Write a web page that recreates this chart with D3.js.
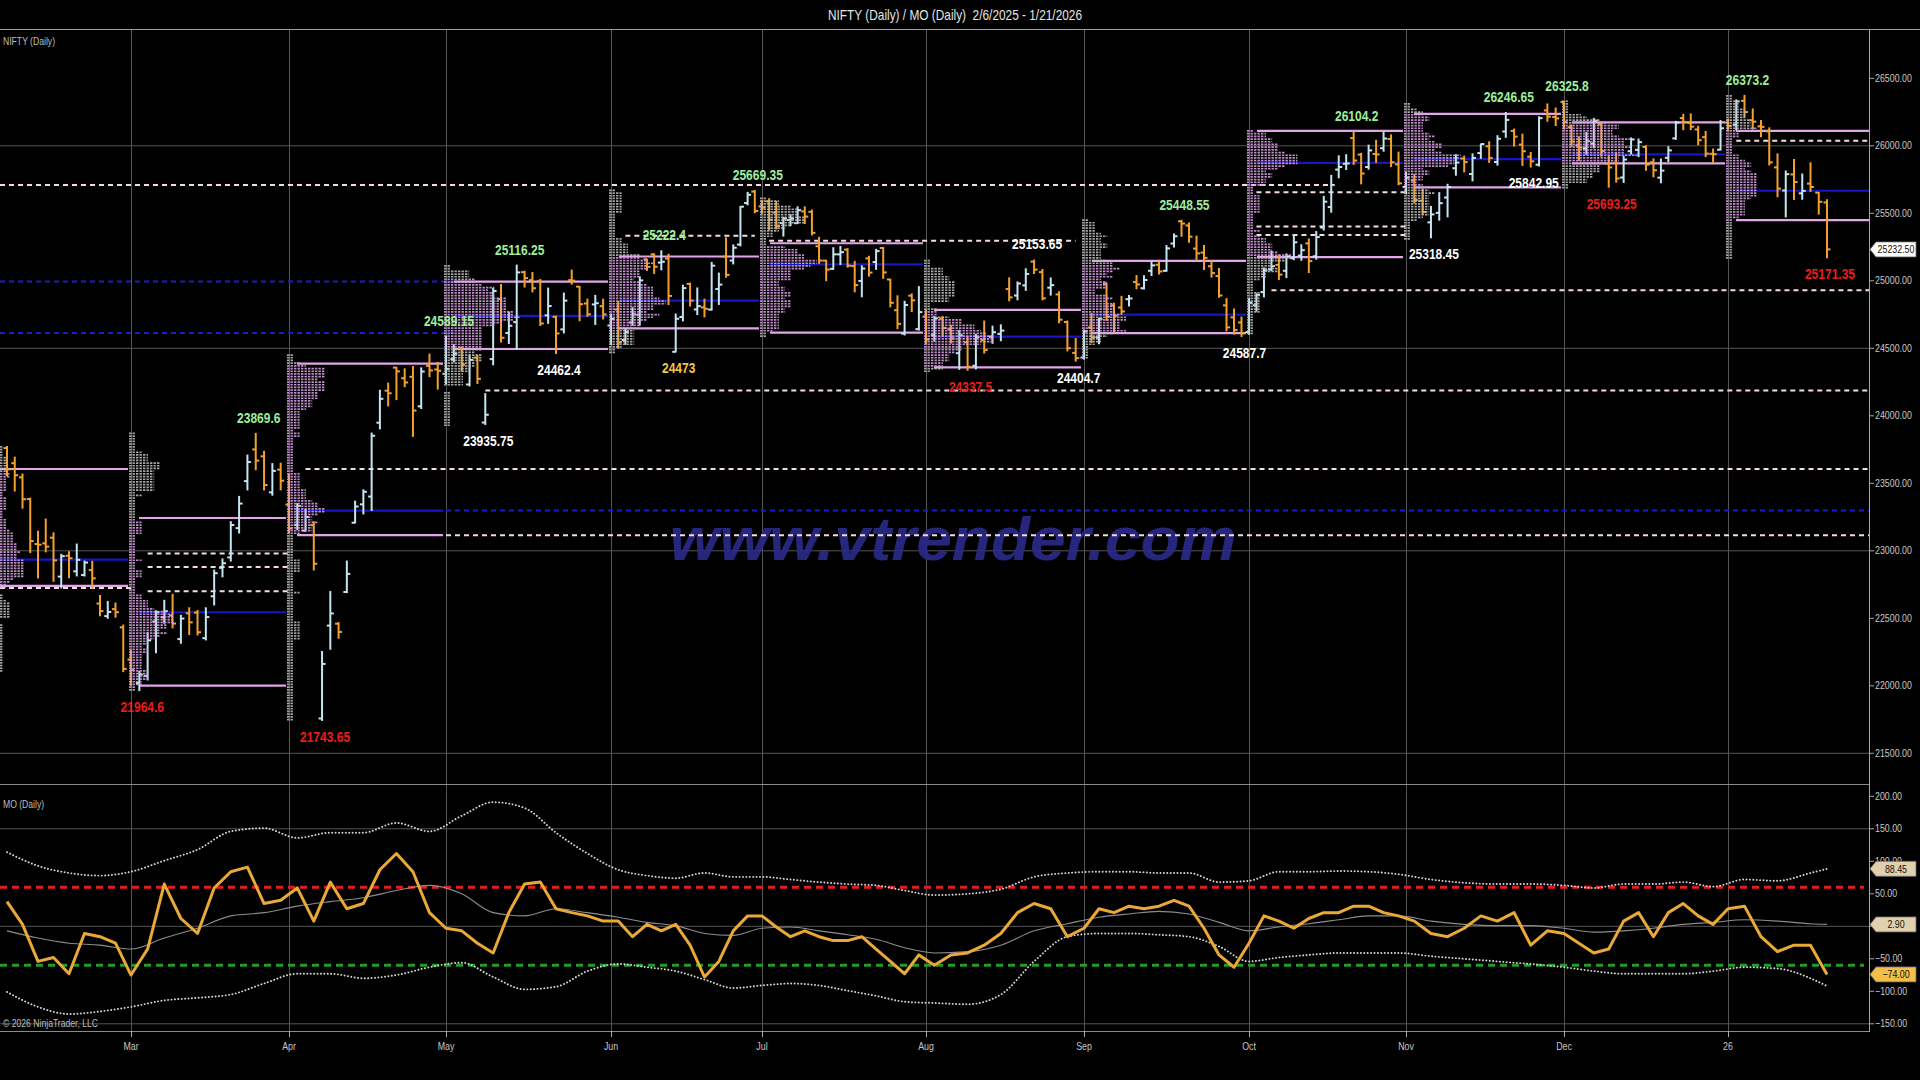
<!DOCTYPE html>
<html>
<head>
<meta charset="utf-8">
<title>NIFTY (Daily) / MO (Daily)</title>
<script src="https://cdn.jsdelivr.net/npm/d3@7/dist/d3.min.js"></script>
<style>
html,body{margin:0;padding:0;background:#000;overflow:hidden;}
svg{display:block;}
</style>
</head>
<body>
<svg id="chart" width="1920" height="1080"></svg>
<script>
(function(){
// ================= DATA =================
const dates = [
"2025-02-06","2025-02-07","2025-02-10","2025-02-11","2025-02-12","2025-02-13","2025-02-14","2025-02-17","2025-02-18","2025-02-19","2025-02-20","2025-02-21","2025-02-24","2025-02-25","2025-02-27","2025-02-28",
"2025-03-03","2025-03-04","2025-03-05","2025-03-06","2025-03-07","2025-03-10","2025-03-11","2025-03-12","2025-03-13","2025-03-17","2025-03-18","2025-03-19","2025-03-20","2025-03-21","2025-03-24","2025-03-25","2025-03-26","2025-03-27","2025-03-28",
"2025-04-01","2025-04-02","2025-04-03","2025-04-04","2025-04-07","2025-04-08","2025-04-09","2025-04-11","2025-04-15","2025-04-16","2025-04-17","2025-04-21","2025-04-22","2025-04-23","2025-04-24","2025-04-25","2025-04-28","2025-04-29","2025-04-30",
"2025-05-02","2025-05-05","2025-05-06","2025-05-07","2025-05-08","2025-05-09","2025-05-12","2025-05-13","2025-05-14","2025-05-15","2025-05-16","2025-05-19","2025-05-20","2025-05-21","2025-05-22","2025-05-23","2025-05-26","2025-05-27","2025-05-28","2025-05-29","2025-05-30",
"2025-06-02","2025-06-03","2025-06-04","2025-06-05","2025-06-06","2025-06-09","2025-06-10","2025-06-11","2025-06-12","2025-06-13","2025-06-16","2025-06-17","2025-06-18","2025-06-19","2025-06-20","2025-06-23","2025-06-24","2025-06-25","2025-06-26","2025-06-27","2025-06-30",
"2025-07-01","2025-07-02","2025-07-03","2025-07-04","2025-07-07","2025-07-08","2025-07-09","2025-07-10","2025-07-11","2025-07-14","2025-07-15","2025-07-16","2025-07-17","2025-07-18","2025-07-21","2025-07-22","2025-07-23","2025-07-24","2025-07-25","2025-07-28","2025-07-29","2025-07-30","2025-07-31",
"2025-08-01","2025-08-04","2025-08-05","2025-08-06","2025-08-07","2025-08-08","2025-08-11","2025-08-12","2025-08-13","2025-08-14","2025-08-18","2025-08-19","2025-08-20","2025-08-21","2025-08-22","2025-08-25","2025-08-26","2025-08-28","2025-08-29",
"2025-09-01","2025-09-02","2025-09-03","2025-09-04","2025-09-05","2025-09-08","2025-09-09","2025-09-10","2025-09-11","2025-09-12","2025-09-15","2025-09-16","2025-09-17","2025-09-18","2025-09-19","2025-09-22","2025-09-23","2025-09-24","2025-09-25","2025-09-26","2025-09-29","2025-09-30",
"2025-10-01","2025-10-03","2025-10-06","2025-10-07","2025-10-08","2025-10-09","2025-10-10","2025-10-13","2025-10-14","2025-10-15","2025-10-16","2025-10-17","2025-10-20","2025-10-21","2025-10-23","2025-10-24","2025-10-27","2025-10-28","2025-10-29","2025-10-30","2025-10-31",
"2025-11-03","2025-11-04","2025-11-06","2025-11-07","2025-11-10","2025-11-11","2025-11-12","2025-11-13","2025-11-14","2025-11-17","2025-11-18","2025-11-19","2025-11-20","2025-11-21","2025-11-24","2025-11-25","2025-11-26","2025-11-27","2025-11-28",
"2025-12-01","2025-12-02","2025-12-03","2025-12-04","2025-12-05","2025-12-08","2025-12-09","2025-12-10","2025-12-11","2025-12-12","2025-12-15","2025-12-16","2025-12-17","2025-12-18","2025-12-19","2025-12-22","2025-12-23","2025-12-24","2025-12-26","2025-12-29","2025-12-30","2025-12-31",
"2026-01-01","2026-01-02","2026-01-05","2026-01-06","2026-01-07","2026-01-08","2026-01-09","2026-01-12","2026-01-13","2026-01-14","2026-01-16","2026-01-19","2026-01-20"
];
const opens = [
23761,23649,23544,23383,23050,23055,23097,22809,22963,22848,22821,22857,22609,22516,22568,22433,
22194,22020,22073,22476,22508,22521,22346,22537,22542,22353,22663,22874,22951,23168,23516,23751,23700,23433,23601,
23342,23192,23150,23190,21758,22446,22460,22695,23208,23344,23402,23949,24186,24357,24278,24289,24070,24370,24343,
24311,24420,24500,24232,24431,23950,24420,24864,24613,24694,25064,25005,24996,24744,24733,24640,25005,24957,24832,24825,24812,
24669,24787,24561,24691,24749,25160,25196,25135,25165,24474,24732,24977,24788,24803,24787,24939,25179,25150,25269,25576,25661,
25551,25588,25505,25428,25450,25427,25514,25511,25256,25149,25089,25196,25231,25109,24999,25166,25139,25243,25010,24782,24609,24890,24642,
24734,24597,24720,24641,24464,24544,24371,24563,24586,24607,24939,24891,24966,25142,25064,24949,24899,24695,24466,
24432,24654,24582,24980,24818,24802,24864,24991,24945,25074,25119,25074,25276,25441,25410,25239,25209,25108,25035,24818,24729,24691,
24620,24819,24916,25085,25118,25074,25167,25187,25277,25182,25394,25546,25824,25867,26057,25935,25843,25939,25982,26050,25863,
25696,25744,25593,25433,25503,25617,25834,25906,25791,25946,25996,25880,26106,26110,26009,25919,25860,26262,26213,
26325,26137,26004,25980,26016,26160,25868,25872,25765,25960,25970,25991,25878,25764,25911,26055,26205,26170,26121,26064,25941,25971,
26173,26155,26333,26189,26144,26107,25840,25669,25788,25648,25720,25653,25580
];
const highs = [
23773,23694,23569,23390,23144,23235,23133,22974,22993,23050,22924,22922,22668,22625,22613,22450,
22262,22106,22394,22556,22633,22677,22522,22578,22558,22578,22857,22940,23216,23403,23709,23869.6,23737,23646,23649,
23565,23350,23306,23214,22254,22698,22468,22924,23368,23452,23872,24189,24242,24359,24348,24365,24355,24457,24396,
24589.15,24526,24510,24449,24448,24164,24944,24973,24767,25116.25,25071,25062,25010,24946,24737,24909,25079,24958,24864,24892,24864,
24754,24845,24644,24800,25030,25160,25199,25222.4,25197,24754,24967,24983,24947,24864,25136,25057,25318,25266,25550,25655,25669.35,
25593,25608,25587,25470,25489,25548,25548,25524,25322,25152,25245,25255,25238,25144,25111,25182,25233,25247,25011,24889,24848,24903,24957,
24784,24736,24733,24671,24634,24586,24602,24702,24664,24674,25022,24992,25089,25153.65,25084,25021,24919,24702,24572,
24636,24757,24723,24981,24833,24885,24891,25039,25037,25140,25139,25261,25346,25448.55,25429,25331,25261,25150,25092,24868,24791,24731,
24868,24904,25095,25220,25190,25199,25330,25267,25310,25365,25625,25781,25926,25934,26104.2,25944,26005,26041,26098,26081,25953,
25803,25787,25679,25551,25653,25715,25934,25924,25940,26013,26030,26075,26246.65,26124,26087,25951,26215,26310,26280,
26325.8,26154,26066,26098,26203,26178,25923,25947,25922,26058,26050,26000,25903,25902,25993,26181,26233,26236,26145,26106,25976,26187,
26197,26340,26373.2,26273,26187,26133,25940,25813,25899,25791,25874,25654,25600
];
const lows = [
23556,23443,23316,22987,22798,22992,22774,22725,22801,22814,22813,22721,22519,22500,22508,22105,
22005,21964.6,22043,22245,22464,22429,22315,22380,22377,22340,22599,22807,22924,23132,23451,23601,23451,23412,23451,
23136,23158,23146,22858,21743.65,22271,22353,22690,23207,23273,23299,23903,24073,24120,24216,23848,24054,24290,24198,
24238,24400,24331,24221,24239,23935.75,24378,24547,24535,24494,24954,24918,24669,24685,24462.4,24614,24975,24704,24737,24677,24717,
24527,24502,24530,24671,24671,25077,25055,25081,24824,24473,24703,24813,24750,24733,24783,24825,25026,25125,25259,25563,25504,
25501,25378,25384,25331,25408,25424,25424,25340,25129,25001,25085,25121,25101,24918,24882,25035,25085,25018,24807,24646,24599,24772,24635,
24535,24554,24590,24539,24344,24337.5,24347,24465,24537,24556,24852,24859,24929,25054,24859,24894,24689,24481,24404.7,
24420,24543,24533,24707,24621,24751,24814,24941,24940,25039,25050,25071,25251,25330,25286,25152,25084,25027,24878,24629,24606,24587.7,
24605,24776,24881,25076,25009,25024,25156,25152,25061,25160,25376,25508,25763,25825,25862,25718,25827,25878,25960,25846,25711,
25645,25578,25491,25318.45,25449,25474,25782,25807,25740,25907,25877,25857,26063,25998,25855,25842.95,25850,26182,26150,
26124,25997,25892,25938,25985,25923,25693.25,25731,25729,25939,25920,25818,25770,25726,25884,26048,26119,26120,26008,25920,25878,25969,
26113,26119,26210,26124,26067,25858,25623,25473,25603,25604,25662,25494,25171.35
];
const closes = [
23603,23560,23382,23072,23045,23031,22929,22960,22945,22933,22913,22796,22553,22547,22545,22125,
22119,22083,22337,22545,22553,22461,22498,22470,22397,22509,22834,22908,23191,23350,23658,23668,23487,23592,23519,
23165,23332,23250,22904,22162,22536,22399,22829,23328,23437,23852,24126,24167,24329,24247,24039,24328,24336,24334,
24347,24461,24380,24414,24274,24008,24925,24578,24667,25062,25020,24945,24684,24813,24610,24853,25001,24827,24752,24834,24751,
24717,24543,24621,24751,25003,25103,25104,25141,24888,24719,24946,24853,24812,24793,25112,24972,25044,25245,25549,25637,25517,
25542,25453,25405,25461,25461,25523,25476,25355,25150,25083,25196,25212,25112,24968,25091,25061,25220,25062,24837,24681,24821,24855,24768,
24565,24723,24650,24574,24596,24363,24585,24487,24619,24631,24877,24980,25051,25083,24870,24968,24712,24501,24427,
24625,24580,24716,24734,24741,24773,24869,24973,25006,25114,25069,25240,25330,25424,25327,25203,25170,25057,24891,24655,24635,24611,
24837,24895,25078,25108,25046,25182,25285,25227,25146,25324,25586,25710,25843,25869,25891,25795,25966,25936,26054,25878,25722,
25764,25598,25510,25492,25575,25695,25876,25879,25910,26013,25910,26052,26192,26068,25960,25885,26205,26216,26203,
26176,26032,25986,26034,26186,25961,25840,25758,25898,26047,26027,25860,25819,25816,25966,26172,26177,26142,26042,25942,25938,26130,
26147,26329,26250,26179,26140,25877,25683,25790,25732,25666,25695,25585,25232.5
];

// Monthly market-profile levels (value-area high, point of control, value-area low)
const profileMonths = ["2025-02","2025-03","2025-04","2025-05","2025-06","2025-07","2025-08","2025-09","2025-10","2025-11","2025-12","2026-01"];
const vaHighs = [23606,23243,24386,24994,25180,25278,24785,25148,26110,26236,26174,26110];
const pocs    = [22935,22545,23298,24740,24853,25122,24586,24749,25874,25901,25937,25667];
const vaLows  = [22740,22001,23116,24495,24648,24616,24359,24613,25175,25692,25870,25450];

// Extended (naked) reference levels
const extLevels = [25710,24994,24613,22725,22980,22880,22700,23606,23298,23116,24187,25334,25297,25656,25402,25339,24930,26038];
const extFrom = ["2025-02-06","2025-02-06","2025-02-06","2025-02-06","2025-03-05","2025-03-05","2025-03-05","2025-04-03","2025-05-02","2025-05-02","2025-05-09","2025-06-04","2025-07-02","2025-10-03","2025-10-03","2025-10-03","2025-10-07","2026-01-02"];
const extTo   = ["2025-10-17","2025-05-05","2025-05-05","2025-03-03","2025-04-01","2025-04-01","2025-04-01","end","end","end","end","2025-06-30","2025-08-29","2025-11-03","2025-11-03","2025-11-03","end","end"];
const extKind = ["w","b","b","w","w","w","w","w","b","w","w","w","w","w","w","w","w","w"];

// Swing labels
const labelDates = ["2025-03-25","2025-03-04","2025-04-07","2025-05-02","2025-05-09","2025-05-15","2025-05-22","2025-06-11","2025-06-13","2025-06-30","2025-08-08","2025-08-21","2025-08-29","2025-09-18","2025-09-30","2025-10-23","2025-11-07","2025-11-20","2025-11-25","2025-12-01","2025-12-09","2026-01-05","2026-01-20"];
const labelValues = [23869.6,21964.6,21743.65,24589.15,23935.75,25116.25,24462.4,25222.4,24473,25669.35,24337.5,25153.65,24404.7,25448.55,24587.7,26104.2,25318.45,26246.65,25842.95,26325.8,25693.25,26373.2,25171.35];
const labelSides = ["above","below","below","above","below","above","below","above","below","above","below","above","below","above","below","above","below","above","below","above","below","above","below"];
const labelTones = ["green","red","red","green","white","green","white","green","yellow","green","red","white","white","green","white","green","white","green","white","green","red","green","red"];

// MO oscillator, read every 2nd bar
const moValues = [38,3,-54,-48,-73,-11,-16,-26,-75,-35,
 65,12,-11,59,84,91,35,40,59,8,
 68,27,35,87,112,84,21,-3,-7,-26,
 -41,21,65,68,27,21,16,8,8,-16,
 3,-7,3,-29,-78,-54,-7,16,16,-1,
 -16,-7,-16,-22,-22,-16,-35,-54,-73,-44,
 -60,-44,-41,-29,-11,21,35,27,-16,-3,
 27,21,31,27,31,40,31,-3,-44,-63,
 -26,16,8,-3,12,21,21,31,31,21,
 16,8,-11,-16,-3,16,8,21,-29,-7,
 -11,-26,-41,-35,8,21,-16,21,35,16,
 3,27,31,-16,-39,-29,-29,-74];
// Signal line and bands, read every 4th bar plus the last bar
const moSignal = [-7,-18,-26,-29,-35,-18,-3,16,21,31,38,44,55,63,50,21,16,27,21,14,6,1,-11,-14,-3,-1,-7,-13,-20,-33,-41,-39,-29,-7,4,14,19,23,19,6,-7,-1,4,10,16,16,8,3,1,1,-3,-9,-7,-3,3,6,10,8,4,2.9];
const bandUpper = [114,93,82,78,84,101,118,146,151,136,144,144,159,146,170,191,182,144,112,87,78,74,82,76,76,72,68,65,63,55,48,50,57,76,82,84,84,82,82,68,70,84,84,85,84,80,72,67,65,65,63,59,65,65,68,61,72,70,82,88.45];
const bandLower = [-101,-124,-135,-131,-124,-114,-110,-105,-88,-73,-73,-80,-75,-63,-56,-78,-97,-93,-69,-58,-63,-69,-82,-95,-91,-88,-91,-99,-107,-116,-118,-120,-105,-54,-16,-11,-11,-13,-16,-31,-54,-48,-44,-41,-41,-41,-46,-50,-54,-58,-63,-69,-73,-73,-73,-69,-63,-65,-80,-92];
const moLevels = [60, -60];

const priceTicks = [21500,22000,22500,23000,23500,24000,24500,25000,25500,26000,26500];
const priceGrid = [21500,23000,24500,26000];
const moTicks = [-150,-100,-50,0,50,100,150,200];
const moGrid = [-150,0,150];

// ================= LAYOUT =================
const W = 1920, H = 1080;
const AX = 1869;               // right axis line
const TOP = 30, TOP_B = 784, BOT_T = 786, BOT_B = 1026, XAX = 1031;
const monthTickPx = [131,289,446,611,762,926,1084,1249,1406,1564,1728];
const FONT = "'Liberation Sans',Arial,'DejaVu Sans',sans-serif";
const COL = {up:"#c4e6f2", down:"#f2a22c", grid:"#555", txt:"#c8c8c8",
  pink:"#e2a5ea", prof:"#d9a0e4", gray:"#bcbcbc", poc:"#1616c8", dashW:"#f3dcdf", dashB:"#1c1ccf",
  green:"#9cef9c", red:"#ec1c1c", white:"#ffffff", yellow:"#f4c542", mo:"#eaa936"};

// condense a text element like a narrow typeface
function narrow(sel, f){
  sel.each(function(){
    const L = this.getComputedTextLength();
    if (L > 0) { this.setAttribute("textLength", (L*(f||0.82)).toFixed(1)); this.setAttribute("lengthAdjust","spacingAndGlyphs"); }
  });
  return sel;
}

const n = dates.length;
const parse = d3.timeParse("%Y-%m-%d");
const D = dates.map(parse);
const idxOf = new Map(dates.map((d,i)=>[d,i]));
const monthStart = [];
D.forEach((d,i)=>{ if(i===0 || d.getMonth()!==D[i-1].getMonth()) monthStart.push(i); });

const x = d3.scaleLinear()
  .domain([0, ...monthStart.slice(1), n-1])
  .range([7, ...monthTickPx, 1827]);
const yP = d3.scaleLinear().domain([21500, 26500]).range([753.3, 78.3]);
const yM = d3.scaleLinear().domain([-150, 200]).range([1023.8, 796.3]);

const svg = d3.select("#chart");
svg.append("rect").attr("width",W).attr("height",H).attr("fill","#000");
const defs = svg.append("defs");
defs.append("clipPath").attr("id","clipTop").append("rect").attr("x",0).attr("y",TOP).attr("width",AX).attr("height",TOP_B-TOP);
defs.append("clipPath").attr("id","clipBot").append("rect").attr("x",0).attr("y",BOT_T).attr("width",AX).attr("height",BOT_B-BOT_T+1);

// title
svg.append("text").attr("x",955).attr("y",20).attr("text-anchor","middle")
  .attr("font-family",FONT).attr("font-size",15).attr("fill","#e4e4e4")
  .attr("textLength",254).attr("lengthAdjust","spacingAndGlyphs")
  .text("NIFTY (Daily) / MO (Daily)\u00a0 2/6/2025 - 1/21/2026");
svg.append("line").attr("x1",0).attr("x2",W).attr("y1",29.5).attr("y2",29.5).attr("stroke","#a0a0a0");

// grid
const grid = svg.append("g");
monthStart.slice(1).forEach(i=>{
  grid.append("line").attr("x1",x(i)+0.5).attr("x2",x(i)+0.5).attr("y1",TOP).attr("y2",XAX).attr("stroke",COL.grid);
});
priceGrid.forEach(v=>grid.append("line").attr("x1",0).attr("x2",AX).attr("y1",yP(v)).attr("y2",yP(v)).attr("stroke",COL.grid));
moGrid.forEach(v=>grid.append("line").attr("x1",0).attr("x2",AX).attr("y1",yM(v)).attr("y2",yM(v)).attr("stroke",COL.grid));
grid.append("line").attr("x1",0).attr("x2",AX).attr("y1",TOP_B+0.5).attr("y2",TOP_B+0.5).attr("stroke","#8a8a8a");
grid.append("line").attr("x1",0).attr("x2",AX).attr("y1",XAX+0.5).attr("y2",XAX+0.5).attr("stroke","#8a8a8a");

// watermark
svg.append("text").attr("x",953).attr("y",560).attr("text-anchor","middle")
  .attr("font-family","'Liberation Sans',Arial,sans-serif").attr("font-weight","bold").attr("font-style","italic")
  .attr("font-size",62).attr("textLength",567).attr("lengthAdjust","spacingAndGlyphs")
  .attr("fill","#2a2a88").attr("opacity",0.92).text("www.vtrender.com");

// ---------- top panel ----------
const topG = svg.append("g").attr("clip-path","url(#clipTop)");
const levelG = topG.append("g");

// extended levels
extLevels.forEach((v,k)=>{
  const xa = extFrom[k]===dates[0] ? 0 : x(idxOf.get(extFrom[k]));
  const xb = extTo[k]==="end" ? AX : x(idxOf.get(extTo[k]));
  levelG.append("line").attr("x1",xa).attr("x2",xb).attr("y1",yP(v)).attr("y2",yP(v))
    .attr("stroke", extKind[k]==="b" ? COL.dashB : COL.dashW).attr("stroke-width",2)
    .attr("stroke-dasharray","5,4");
});

// monthly value-area lines
profileMonths.forEach((m,k)=>{
  const i0 = monthStart[k];
  const xa = k===0 ? 0 : x(i0)+8;
  const xb = k+1<monthStart.length ? x(monthStart[k+1])-3 : AX;
  [[vaHighs[k],COL.pink],[vaLows[k],COL.pink],[pocs[k],COL.poc]].forEach(([v,c])=>{
    levelG.append("line").attr("x1",xa).attr("x2",xb).attr("y1",yP(v)).attr("y2",yP(v))
      .attr("stroke",c).attr("stroke-width",2.2);
  });
});

// OHLC bars
const barG = topG.append("g");
d3.range(n).forEach(i=>{
  const c = closes[i]>=opens[i] ? COL.up : COL.down;
  const g = barG.append("g").attr("stroke",c).attr("stroke-width",2);
  g.append("line").attr("x1",x(i)).attr("x2",x(i)).attr("y1",yP(highs[i])-0.5).attr("y2",yP(lows[i])+0.5);
  g.append("line").attr("x1",x(i)-3.5).attr("x2",x(i)).attr("y1",yP(opens[i])).attr("y2",yP(opens[i]));
  g.append("line").attr("x1",x(i)).attr("x2",x(i)+3.5).attr("y1",yP(closes[i])).attr("y2",yP(closes[i]));
});

// monthly TPO-style profiles built from the bars of each month
const BIN = 20, PER = 6.3;
const profG = topG.append("g").attr("opacity",0.88);
profileMonths.forEach((m,k)=>{
  const i0 = monthStart[k], i1 = k+1<monthStart.length ? monthStart[k+1] : n;
  const lo = d3.min(lows.slice(i0,i1)), hi = d3.max(highs.slice(i0,i1));
  const xs = k===0 ? 0 : x(i0)-2;
  const per = k===0 ? PER*0.55 : PER;
  for(let b=Math.floor(lo/BIN)*BIN; b<hi; b+=BIN){
    let cnt = 0;
    for(let i=i0;i<i1;i++) if(lows[i] < b+BIN && highs[i] > b) cnt++;
    if(!cnt) continue;
    const mid = b+BIN/2;
    const inVA = mid>=vaLows[k] && mid<=vaHighs[k];
    profG.append("line").attr("x1",xs).attr("x2",xs+cnt*per).attr("y1",yP(mid)).attr("y2",yP(mid))
      .attr("stroke", inVA ? COL.prof : COL.gray).attr("stroke-width",1.7).attr("stroke-dasharray","2.4,1.1");
  }
});

// swing labels
const labG = svg.append("g").attr("font-family",FONT).attr("font-weight","bold").attr("font-size",15).attr("text-anchor","middle");
labelDates.forEach((d,k)=>{
  const v = labelValues[k];
  const y = labelSides[k]==="above" ? yP(v)-16 : yP(v)+16;
  labG.append("text").attr("x",x(idxOf.get(d))+3).attr("y",y).attr("dy","0.36em")
    .attr("fill",COL[labelTones[k]]).text(String(v));
});
narrow(labG.selectAll("text"), 0.80);

// ---------- bottom panel ----------
const botG = svg.append("g").attr("clip-path","url(#clipBot)");
moLevels.forEach((v,k)=>{
  botG.append("line").attr("x1",0).attr("x2",AX-5).attr("y1",yM(v)).attr("y2",yM(v))
    .attr("stroke", k===0 ? "#e01e1e" : "#1f9e2a").attr("stroke-width",3).attr("stroke-dasharray","7,5");
});
const idx2 = d3.range(0,n,2);
const idx4 = d3.range(0,n-1,4).concat([n-1]);
const smooth = d3.line().curve(d3.curveMonotoneX).x(d=>x(d[0])).y(d=>yM(d[1]));
const band = (arr)=>arr.map((v,k)=>[idx4[k],v]);
[bandUpper, bandLower].forEach(arr=>{
  botG.append("path").attr("d",smooth(band(arr))).attr("fill","none").attr("stroke","#d4d4d4")
    .attr("stroke-width",1.9).attr("stroke-dasharray","0.1,3.3").attr("stroke-linecap","round");
});
botG.append("path").attr("d",smooth(band(moSignal))).attr("fill","none").attr("stroke","#8c8c8c").attr("stroke-width",1.1);
const moLine = d3.line().x(d=>x(d[0])).y(d=>yM(d[1]));
botG.append("path").attr("d",moLine(moValues.map((v,k)=>[idx2[k],v]))).attr("fill","none")
  .attr("stroke",COL.mo).attr("stroke-width",3).attr("stroke-linejoin","round");

// ---------- axes ----------
const tagValsM = [bandUpper[bandUpper.length-1], moSignal[moSignal.length-1], moValues[moValues.length-1]];
const axG = svg.append("g").attr("font-family",FONT).attr("font-size",10.5).attr("fill",COL.txt);
axG.append("line").attr("x1",AX+0.5).attr("x2",AX+0.5).attr("y1",29).attr("y2",XAX+1).attr("stroke","#a8a8a8");
const fmt2 = d3.format(".2f");
priceTicks.forEach(v=>{
  axG.append("line").attr("x1",AX).attr("x2",AX+5).attr("y1",yP(v)).attr("y2",yP(v)).attr("stroke","#a8a8a8");
  axG.append("text").attr("class","tk").attr("x",AX+6).attr("y",yP(v)).attr("dy","0.35em").text(fmt2(v));
});
moTicks.forEach(v=>{
  axG.append("line").attr("x1",AX).attr("x2",AX+5).attr("y1",yM(v)).attr("y2",yM(v)).attr("stroke","#a8a8a8");
  // a tick label fully covered by a value tag is not visible in the chart
  if (tagValsM.some(t=>Math.abs(yM(t)-yM(v))<5)) return;
  axG.append("text").attr("class","tk").attr("x",AX+6).attr("y",yM(v)).attr("dy","0.35em").text(fmt2(v));
});
const monFmt = d3.timeFormat("%b");
monthStart.slice(1).forEach(i=>{
  axG.append("line").attr("x1",x(i)+0.5).attr("x2",x(i)+0.5).attr("y1",XAX).attr("y2",XAX+6).attr("stroke","#a8a8a8");
  const lab = D[i].getMonth()===0 ? d3.timeFormat("%y")(D[i]) : monFmt(D[i]);
  axG.append("text").attr("class","tk").attr("x",x(i)).attr("y",1046).attr("dy","0.35em").attr("text-anchor","middle").text(lab);
});
narrow(axG.selectAll("text.tk"), 0.84);

// panel captions
const capG = svg.append("g").attr("font-family",FONT).attr("font-size",10.5).attr("fill","#bdbdbd");
capG.append("text").attr("x",3).attr("y",45).text("NIFTY (Daily)");
capG.append("text").attr("x",3).attr("y",808).text("MO (Daily)");
capG.append("text").attr("x",3).attr("y",1027).text("\u00a9 2026 NinjaTrader, LLC");
narrow(capG.selectAll("text"), 0.82);

// ---------- value tags ----------
function tag(y, txt, fill){
  const g = svg.append("g");
  g.append("path").attr("d",`M${AX+1},${y} L${AX+7},${y-7.5} L${AX+47},${y-7.5} L${AX+47},${y+7.5} L${AX+7},${y+7.5} Z`)
    .attr("fill",fill).attr("stroke","#6a6a6a").attr("stroke-width",0.8);
  const t = g.append("text").attr("x",AX+27).attr("y",y).attr("dy","0.36em").attr("text-anchor","middle")
    .attr("font-family",FONT).attr("font-size",10.5).attr("fill","#111").text(txt);
  narrow(t, 0.84);
}
tag(yP(closes[n-1]), fmt2(closes[n-1]), "#ffffff");
tag(yM(tagValsM[0]), fmt2(tagValsM[0]), "#e2d0ad");
tag(yM(tagValsM[1]), fmt2(tagValsM[1]), "#e2d0ad");
tag(yM(tagValsM[2]), fmt2(tagValsM[2]), "#f2c04a");
})();
</script>
</body>
</html>
